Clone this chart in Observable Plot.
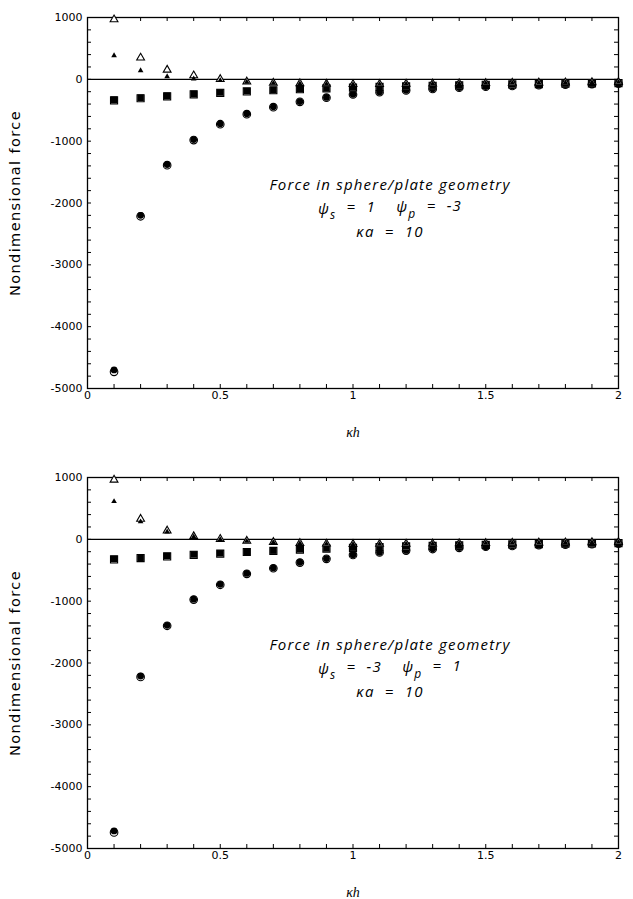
<!DOCTYPE html>
<html>
<head>
<meta charset="utf-8">
<script src="https://cdn.jsdelivr.net/npm/d3@7"></script>
<script src="https://cdn.jsdelivr.net/npm/@observablehq/plot@0.6"></script>
<style>
  body { margin: 0; background: #fff; }
  #charts svg { display: block; }
</style>
</head>
<body>
<div id="charts"></div>
<script>
// Dimensionless separation κh
const kh = [0.1, 0.2, 0.3, 0.4, 0.5, 0.6, 0.7, 0.8, 0.9, 1.0,
            1.1, 1.2, 1.3, 1.4, 1.5, 1.6, 1.7, 1.8, 1.9, 2.0];

// Case 1: ψs = 1, ψp = -3
const triOpenA  = [967, 348, 153, 62, 2, -38, -58, -66, -74, -80, -77, -73, -70, -66, -62, -58, -55, -52, -49, -46];
const triFillA  = [385, 142, 45, 8, -18, -45, -62, -70, -76, -82, -79, -75, -71, -67, -63, -59, -56, -53, -50, -47];
const sqOpenA   = [-340, -306, -275, -242, -218, -196, -177, -160, -146, -134, -123, -113, -104, -96, -89, -82, -76, -70, -65, -60];
const sqFillA   = [-330, -298, -266, -235, -212, -191, -173, -157, -143, -131, -120, -111, -102, -94, -87, -80, -74, -69, -64, -59];
const circOpenA = [-4730, -2215, -1388, -982, -726, -563, -450, -364, -297, -245, -208, -180, -155, -135, -119, -106, -95, -85, -77, -70];
const circFillA = [-4700, -2200, -1378, -974, -719, -557, -444, -359, -292, -241, -205, -177, -152, -133, -117, -104, -93, -84, -76, -69];

// Case 2: ψs = -3, ψp = 1
const triOpenB  = [962, 330, 140, 48, 4, -26, -45, -62, -72, -78, -76, -73, -70, -66, -62, -58, -55, -52, -49, -46];
const triFillB  = [612, 285, 122, 40, -2, -30, -50, -66, -75, -80, -78, -75, -71, -67, -63, -59, -56, -53, -50, -47];
const sqOpenB   = [-325, -303, -276, -250, -232, -205, -188, -165, -150, -137, -125, -115, -106, -97, -90, -83, -77, -71, -66, -61];
const sqFillB   = [-318, -297, -270, -244, -227, -200, -183, -160, -146, -134, -122, -112, -103, -95, -88, -81, -75, -70, -65, -60];
const circOpenB = [-4740, -2225, -1398, -975, -735, -558, -468, -376, -316, -252, -212, -182, -157, -137, -120, -107, -96, -86, -78, -71];
const circFillB = [-4715, -2212, -1390, -968, -728, -552, -462, -371, -311, -248, -209, -179, -154, -134, -118, -105, -94, -85, -77, -70];

// Axis ticks
const xTicks = [0, 0.5, 1, 1.5, 2];
const yTicks = [-5000, -4000, -3000, -2000, -1000, 0, 1000];
const xMinor = d3.range(0, 21).map(i => i / 10);
const yMinor = d3.range(-25, 6).map(i => i * 200);

const annotA = ["Force in sphere/plate geometry", "ψ_s  =  1    ψ_p  =  -3", "κa  =  10"];
const annotB = ["Force in sphere/plate geometry", "ψ_s  =  -3    ψ_p  =  1", "κa  =  10"];
const yLabel = "Nondimensional force";
const xLabel = "κh";

const rows = vals => kh.map((x, i) => ({kh: x, force: vals[i]}));

function panel(s, annot, marginTop, marginBottom) {
  const W = 633, H = 450, mL = 87, mR = 15;
  const innerW = W - mL - mR, innerH = H - marginTop - marginBottom;
  const tickLen = 4;
  const svg = Plot.plot({
    width: W, height: H,
    marginLeft: mL, marginRight: mR, marginTop, marginBottom,
    style: {fontFamily: "'DejaVu Sans', sans-serif", fontSize: "11px", color: "#000", background: "#fff", overflow: "visible"},
    x: {domain: [0, 2], axis: null},
    y: {domain: [-5000, 1000], axis: null},
    marks: [
      // inward minor ticks on all four sides
      Plot.tickX(xMinor, {x: d => d, insetTop: innerH - tickLen, stroke: "#000", strokeWidth: 1}),
      Plot.tickX(xMinor, {x: d => d, insetBottom: innerH - tickLen, stroke: "#000", strokeWidth: 1}),
      Plot.tickY(yMinor, {y: d => d, insetRight: innerW - tickLen, stroke: "#000", strokeWidth: 1}),
      Plot.tickY(yMinor, {y: d => d, insetLeft: innerW - tickLen, stroke: "#000", strokeWidth: 1}),
      Plot.frame({stroke: "#000", strokeWidth: 1.3}),
      Plot.ruleY([0], {stroke: "#000", strokeWidth: 1.4}),
      Plot.axisX({ticks: xTicks, tickSize: 0, tickPadding: 3, tickFormat: d => String(d), label: null, fontSize: 11}),
      Plot.axisY({ticks: yTicks, tickSize: 0, tickPadding: 5, tickFormat: d => String(d), label: null, fontSize: 11}),
      // data series
      Plot.dot(rows(s.circOpen), {x: "kh", y: "force", symbol: "circle", r: 3.8, fill: "#fff", stroke: "#000", strokeWidth: 1.1}),
      Plot.dot(rows(s.circFill), {x: "kh", y: "force", symbol: "circle", r: 3.4, fill: "#000", stroke: "none"}),
      Plot.dot(rows(s.sqOpen), {x: "kh", y: "force", symbol: "square", r: 4.0, fill: "#fff", stroke: "#000", strokeWidth: 1.1}),
      Plot.dot(rows(s.sqFill), {x: "kh", y: "force", symbol: "square", r: 3.7, fill: "#000", stroke: "none"}),
      Plot.dot(rows(s.triOpen), {x: "kh", y: "force", symbol: "triangle", r: 2.9, fill: "#fff", stroke: "#000", strokeWidth: 1.1}),
      Plot.dot(rows(s.triFill), {x: "kh", y: "force", symbol: "triangle", r: 2.1, fill: "#000", stroke: "none"}),
      // axis titles
      Plot.text([yLabel], {frameAnchor: "left", dx: -72, rotate: -90, textAnchor: "middle", lineAnchor: "middle",
        fontFamily: "'DejaVu Sans', sans-serif", fontSize: 14.5}),
      Plot.text([xLabel], {frameAnchor: "bottom", dy: 44, lineAnchor: "middle", fontStyle: "italic",
        fontFamily: "'Liberation Serif', serif", fontSize: 14}),
      // annotation block
      ...annot.map((line, i) => Plot.text([line], {frameAnchor: "top", dx: 37, dy: 168 + i * 23.5, lineAnchor: "middle",
        fontStyle: "italic", fontFamily: "'Open Sans', sans-serif", fontSize: 15}))
    ]
  });
  const sel = d3.select(svg);
  // loose spacing for the annotation and the rotated axis title
  sel.selectAll("text").each(function () {
    const t = this.textContent;
    if (annot.includes(t)) {
      d3.select(this).style("letter-spacing", "1.2px").style("white-space", "pre");
    } else if (t === yLabel) {
      d3.select(this).style("letter-spacing", "1.4px");
    }
  });
  // render "_x" as a subscript x
  sel.selectAll("text").each(function () {
    const t = this.textContent;
    if (!t.includes("_")) return;
    const el = d3.select(this);
    el.text(null);
    const parts = t.split(/_(\w)/);
    let lowered = false;
    parts.forEach((p, j) => {
      if (!p) return;
      const ts = el.append("tspan").text(p);
      if (j % 2 === 1) {
        ts.attr("dy", "0.45em").attr("font-size", "0.8em");
        lowered = true;
      } else if (lowered) {
        ts.attr("dy", "-0.45em");
        lowered = false;
      }
    });
  });
  return svg;
}

const root = document.getElementById("charts");
root.append(panel({triOpen: triOpenA, triFill: triFillA, sqOpen: sqOpenA, sqFill: sqFillA, circOpen: circOpenA, circFill: circFillA}, annotA, 17, 62));
root.append(panel({triOpen: triOpenB, triFill: triFillB, sqOpen: sqOpenB, sqFill: sqFillB, circOpen: circOpenB, circFill: circFillB}, annotB, 27, 52));
</script>
</body>
</html>
